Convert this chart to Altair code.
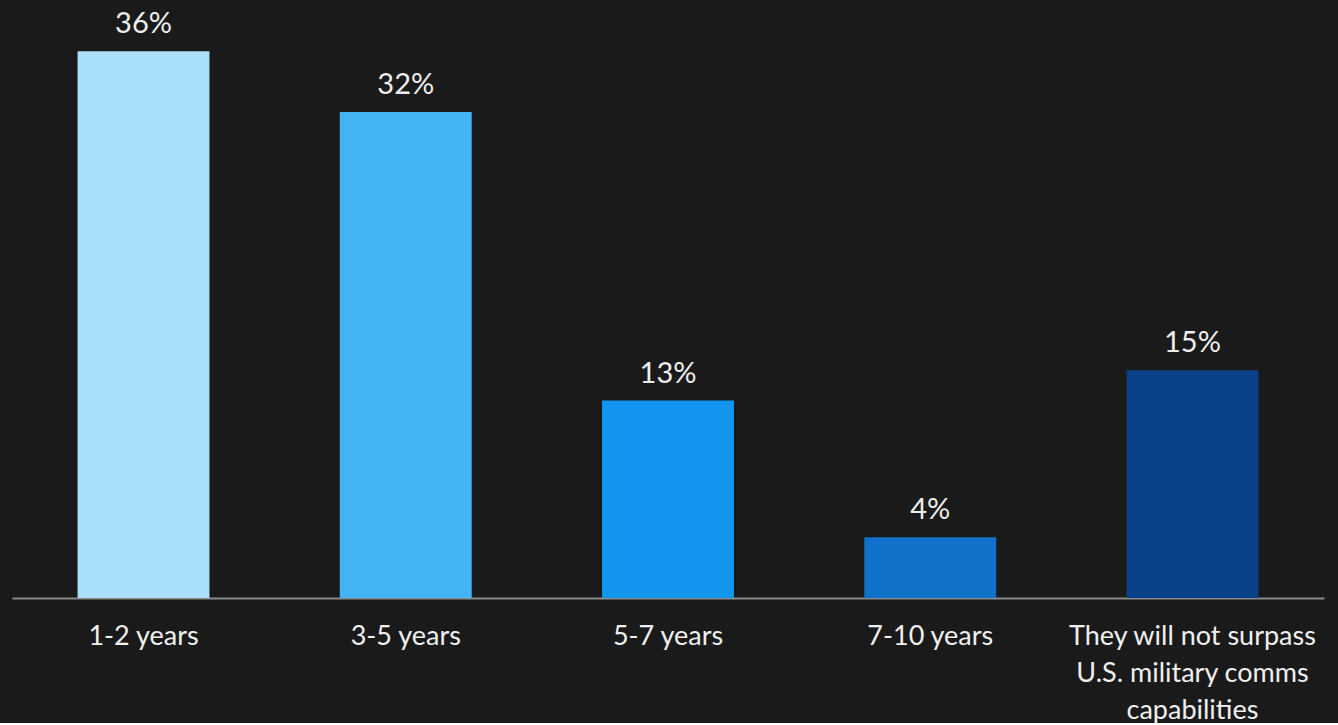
import altair as alt
import pandas as pd

categories = ["1-2 years", "3-5 years", "5-7 years", "7-10 years",
              "They will not surpass\nU.S. military comms\ncapabilities"]
values = [36, 32, 13, 4, 15]
labels = ["36%", "32%", "13%", "4%", "15%"]
colors = ["#a9dffd", "#43b5f5", "#1396f0", "#0f72c8", "#0a428a"]

df = pd.DataFrame({"cat": categories, "val": values, "lab": labels})

x = alt.X("cat:N", sort=categories,
          scale=alt.Scale(paddingInner=0.497, paddingOuter=0.25),
          axis=alt.Axis(title=None, labelAngle=0, ticks=False, grid=False,
                        domainColor="#8a8a8a", domainWidth=2,
                        labelColor="#f0f0f0", labelFontSize=27, labelFont="Lato",
                        labelPadding=46, labelLineHeight=37, labelBaseline="alphabetic",
                        labelExpr="split(datum.value, '\\n')", labelLimit=400))
y = alt.Y("val:Q", scale=alt.Scale(domain=[0, 39.37], nice=False), axis=None)

bars = alt.Chart(df).mark_bar().encode(
    x=x, y=y,
    color=alt.Color("cat:N", sort=categories,
                    scale=alt.Scale(domain=categories, range=colors), legend=None),
)
text = alt.Chart(df).mark_text(baseline="alphabetic", dy=-18, fontSize=29,
                               font="Lato", color="#eeeeee").encode(
    x=alt.X("cat:N", sort=categories), y="val:Q", text="lab:N")

chart = (bars + text).properties(
    width=1312, height=598, background="#1a1a1a",
    padding={"left": 12, "top": 0, "right": 14, "bottom": 0},
).configure_view(stroke=None)

chart.save("out.html", embed_options={"renderer": "svg", "actions": False})
